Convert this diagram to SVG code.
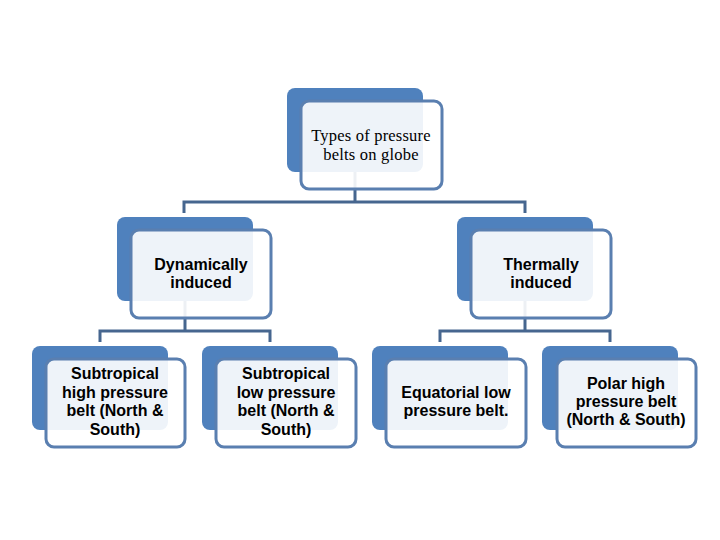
<svg xmlns="http://www.w3.org/2000/svg" width="720" height="540" viewBox="0 0 720 540">
<style>
.back{fill:#4f81bd;}
.front{fill:#ffffff;fill-opacity:0.9;stroke:#5a7fb0;stroke-width:3;}
.conn{fill:none;stroke:#46668f;stroke-width:3;}
.t1{font-family:"Liberation Serif",serif;font-size:16.5px;fill:#000;text-anchor:middle;letter-spacing:0.2px;}
.t2{font-family:"Liberation Sans",Arial,sans-serif;font-weight:bold;font-size:16px;fill:#000;text-anchor:middle;}
</style>
<rect width="720" height="540" fill="#ffffff"/>
<g id="connectors">
<path class="conn" d="M355,172 V202 M184,213 V202 H525 V213"/>
<path class="conn" d="M185,301 V331 M100,342 V331 H270 V342"/>
<path class="conn" d="M525,301 V331 M440,342 V331 H610 V342"/>
</g>
<g id="n0">
<rect class="back" x="287" y="88" width="136" height="84" rx="8"/>
<rect class="front" x="301" y="101" width="141" height="88" rx="8"/>
<text class="t1" x="371" y="141">Types of pressure</text>
<text class="t1" x="371" y="160">belts on globe</text>
</g>
<g id="n1">
<rect class="back" x="117" y="217" width="136" height="84" rx="8"/>
<rect class="front" x="131" y="230" width="140" height="88" rx="8"/>
<text class="t2" x="201" y="270">Dynamically</text>
<text class="t2" x="201" y="288">induced</text>
</g>
<g id="n2">
<rect class="back" x="457" y="217" width="136" height="84" rx="8"/>
<rect class="front" x="471" y="230" width="140" height="88" rx="8"/>
<text class="t2" x="541" y="270">Thermally</text>
<text class="t2" x="541" y="288">induced</text>
</g>
<g id="n3">
<rect class="back" x="32" y="346" width="136" height="84" rx="8"/>
<rect class="front" x="46" y="359" width="139" height="88" rx="8"/>
<text class="t2" x="115" y="379">Subtropical</text>
<text class="t2" x="115" y="398">high pressure</text>
<text class="t2" x="115" y="416">belt (North &amp;</text>
<text class="t2" x="115" y="435">South)</text>
</g>
<g id="n4">
<rect class="back" x="202" y="346" width="136" height="84" rx="8"/>
<rect class="front" x="216" y="359" width="140" height="88" rx="8"/>
<text class="t2" x="286" y="379">Subtropical</text>
<text class="t2" x="286" y="398">low pressure</text>
<text class="t2" x="286" y="416">belt (North &amp;</text>
<text class="t2" x="286" y="435">South)</text>
</g>
<g id="n5">
<rect class="back" x="372" y="346" width="136" height="84" rx="8"/>
<rect class="front" x="386" y="359" width="140" height="88" rx="8"/>
<text class="t2" x="456" y="398">Equatorial low</text>
<text class="t2" x="456" y="416">pressure belt.</text>
</g>
<g id="n6">
<rect class="back" x="542" y="346" width="136" height="84" rx="8"/>
<rect class="front" x="557" y="359" width="139" height="88" rx="8"/>
<text class="t2" x="626" y="389">Polar high</text>
<text class="t2" x="626" y="407">pressure belt</text>
<text class="t2" x="626" y="425">(North &amp; South)</text>
</g>
</svg>
